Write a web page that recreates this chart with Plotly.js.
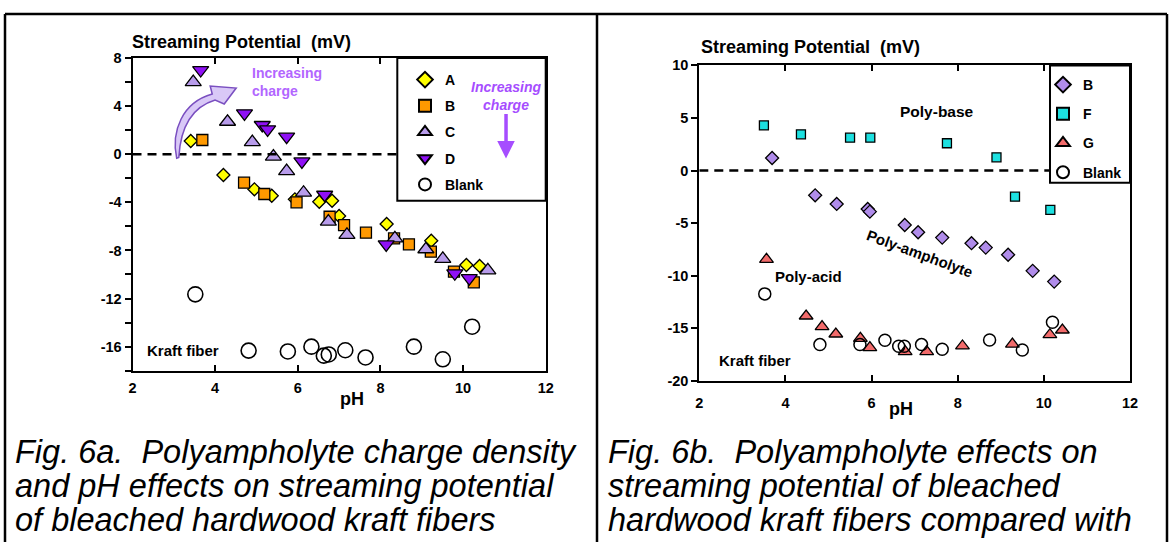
<!DOCTYPE html>
<html><head><meta charset="utf-8">
<script src="https://cdn.plot.ly/plotly-3.0.1.min.js"></script>
<style>html,body{margin:0;padding:0;background:#fff}#chart{width:1172px;height:542px}</style>
</head><body><div id="chart"></div>
<script>
// ---- Fig 6a data (pH, streaming potential mV) ----
const pHA = [3.41,4.20,4.95,5.37,5.93,6.52,6.83,7.00,8.15,9.23,10.08,10.40];
const spA = [1.1,-1.73,-2.92,-3.45,-3.75,-3.95,-3.87,-5.14,-5.8,-7.19,-9.21,-9.29];
const pHB = [3.69,4.70,5.19,5.97,6.77,7.12,7.65,8.33,8.69,9.22,9.78,10.26];
const spB = [1.18,-2.37,-3.31,-4.0,-5.2,-5.89,-6.52,-7.0,-7.49,-8.1,-9.77,-10.65];
const pHC = [3.47,4.30,4.90,5.41,5.73,6.14,6.74,7.19,8.35,9.10,9.51,10.60];
const spC = [6.0,2.7,1.0,-0.2,-1.4,-3.2,-5.6,-6.7,-7.0,-7.9,-8.7,-9.65];
const pHD = [3.65,4.71,5.14,5.27,5.73,6.10,6.65,8.14,9.80,10.15];
const spD = [7.0,3.4,2.43,2.07,1.46,-0.6,-3.37,-7.5,-9.9,-10.3];
const pHBlankA = [3.52,4.81,5.76,6.33,6.63,6.75,7.15,7.64,8.81,9.51,10.22];
const spBlankA = [-11.65,-16.33,-16.4,-16.0,-16.75,-16.65,-16.3,-16.9,-16.0,-17.05,-14.34];

// ---- Fig 6b data ----
const pHB2 = [3.69,4.69,5.19,5.91,5.96,6.77,7.08,7.64,8.32,8.65,9.17,9.74,10.24];
const spB2 = [1.2,-2.35,-3.17,-3.65,-3.9,-5.17,-5.86,-6.37,-6.9,-7.32,-8.0,-9.53,-10.55];
const pHF = [3.50,4.36,5.50,5.97,7.75,8.90,9.33,10.15];
const spF = [4.29,3.45,3.13,3.13,2.6,1.26,-2.48,-3.74];
const pHG = [3.56,4.48,4.85,5.17,5.74,5.96,6.78,7.28,8.11,9.27,10.14,10.43];
const spG = [-8.43,-13.82,-14.83,-15.53,-15.94,-16.83,-17.2,-17.2,-16.67,-16.5,-15.6,-15.15];
const pHBlankB = [3.52,4.80,5.73,6.31,6.63,6.76,7.16,7.64,8.74,9.50,10.20];
const spBlankB = [-11.72,-16.54,-16.54,-16.13,-16.7,-16.7,-16.54,-16.98,-16.1,-17.05,-14.42];

const xTicks = [2,4,6,8,10,12];
const xTickText = ['2','4','6','8','10','12'];
const yTicksA = [8,4,0,-4,-8,-12,-16];
const yTickTextA = ['8','4','0','-4','-8','-12','-16'];
const yTicksB = [10,5,0,-5,-10,-15,-20];
const yTickTextB = ['10','5','0','-5','-10','-15','-20'];

const FONT = 'Arial, "Liberation Sans", sans-serif';

function tr(x,y,name,sym,size,color,xa,ya,leg,lw){
  return {x:x,y:y,name:name,type:'scatter',mode:'markers',xaxis:xa,yaxis:ya,legend:leg,
    legendgroup:name+leg,
    marker:{symbol:sym,size:size,color:color,line:{color:'#000',width:lw||1.3}}};
}
const data = [
  tr(pHA,spA,'A','diamond',10,'#FFFF00','x','y','legend'),
  tr(pHB,spB,'B','square',11,'#FF9900','x','y','legend'),
  tr(pHC,spC,'C','triangle-up',14,'#B89CEB','x','y','legend'),
  tr(pHD,spD,'D','triangle-down',14,'#8F10F5','x','y','legend'),
  tr(pHBlankA,spBlankA,'Blank','circle',15,'rgba(255,255,255,0)','x','y','legend',1.6),
  tr(pHB2,spB2,'B','diamond',10,'#B08CEA','x2','y2','legend2'),
  tr(pHF,spF,'F','square',9,'#1CE0E0','x2','y2','legend2'),
  tr(pHG,spG,'G','triangle-up',12,'#F26B6B','x2','y2','legend2'),
  tr(pHBlankB,spBlankB,'Blank','circle',12,'rgba(255,255,255,0)','x2','y2','legend2',1.5)
];

const W=1172,H=542;
const px = v=>v/W, py = v=>1-v/H;
function tf(){ return {family:FONT,size:14.5,color:'#000',weight:700}; }
function ax(extra){
  return Object.assign({showgrid:false,zeroline:false,linecolor:'#000',linewidth:2,showline:true,
    tickfont:tf(),tickcolor:'#000',tickwidth:2,automargin:false}, extra);
}

const layout = {
  width:W,height:H,margin:{l:0,r:0,t:0,b:0},paper_bgcolor:'#fff',plot_bgcolor:'#fff',
  showlegend:true,font:{family:FONT,color:'#000',size:15},
  xaxis:ax({domain:[px(132.5),px(545.7)],range:[2,12],tickmode:'array',tickvals:xTicks,ticktext:xTickText,
    ticks:'inside',ticklen:6,mirror:'ticks',anchor:'y',ticklabelstandoff:3}),
  yaxis:ax({domain:[py(370.7),py(58)],range:[-18,8],tickmode:'array',tickvals:yTicksA,ticktext:yTickTextA,
    ticks:'outside',ticklen:6,mirror:true,anchor:'x',
    minor:{dtick:2,tick0:0,ticks:'outside',ticklen:6,tickcolor:'#000',tickwidth:2}}),
  xaxis2:ax({domain:[px(699.3),px(1130)],range:[2,12],tickmode:'array',tickvals:xTicks,ticktext:xTickText,
    ticks:'inside',ticklen:6,mirror:'ticks',anchor:'y2',ticklabelstandoff:8}),
  yaxis2:ax({domain:[py(381),py(65.4)],range:[-20,10],tickmode:'array',tickvals:yTicksB,ticktext:yTickTextB,
    ticks:'outside',ticklen:6,mirror:true,anchor:'x2'}),
  legend:{x:px(405),y:py(64),xanchor:'left',yanchor:'top',bgcolor:'rgba(0,0,0,0)',borderwidth:0,
    itemsizing:'constant',traceorder:'grouped',tracegroupgap:5,font:{family:FONT,size:14,weight:'bold'}},
  legend2:{x:px(1043),y:py(69),xanchor:'left',yanchor:'top',bgcolor:'rgba(0,0,0,0)',borderwidth:0,
    itemsizing:'constant',traceorder:'grouped',tracegroupgap:8,font:{family:FONT,size:14,weight:'bold'}},
  shapes:[
    {type:'line',xref:'x',yref:'y',x0:2,x1:12,y0:0,y1:0,line:{color:'#000',width:2.5,dash:'9px,6px'}},
    {type:'line',xref:'x2',yref:'y2',x0:2,x1:12,y0:0,y1:0,line:{color:'#000',width:2.5,dash:'9px,6px'}},
    {type:'rect',xref:'paper',yref:'paper',x0:px(397.3),x1:px(545.7),y0:py(200.7),y1:py(58),
      fillcolor:'#fff',line:{color:'#000',width:2}},
    {type:'rect',xref:'paper',yref:'paper',x0:px(1050),x1:px(1130),y0:py(182.7),y1:py(65.4),
      fillcolor:'#fff',line:{color:'#000',width:2}},
    {type:'path',xref:'x',yref:'y',
      path:'M3.07,-0.34 C2.93,1.9 3.2,4.3 3.93,5.0 L3.88,5.67 L4.51,5.50 L4.22,4.17 L4.0,4.5 C3.42,3.9 3.16,2.1 3.12,-0.28 Z',
      fillcolor:'#D9C8F7',line:{color:'#7A4FC0',width:1.5}},
    {type:'line',xref:'paper',yref:'paper',x0:px(5),x1:px(1167),y0:py(14),y1:py(14),line:{color:'#000',width:2.5}},
    {type:'line',xref:'paper',yref:'paper',x0:px(5),x1:px(5),y0:py(14),y1:0,line:{color:'#000',width:2.5}},
    {type:'line',xref:'paper',yref:'paper',x0:px(597),x1:px(597),y0:py(14),y1:0,line:{color:'#000',width:2.5}},
    {type:'line',xref:'paper',yref:'paper',x0:px(1167),x1:px(1167),y0:py(14),y1:0,line:{color:'#000',width:2.5}}
  ],
  annotations:[
    {xref:'paper',yref:'paper',x:px(130),y:py(42),xanchor:'left',yanchor:'middle',showarrow:false,
      text:'Streaming Potential\u00a0\u00a0(mV)',font:{family:FONT,size:18,weight:'bold'}},
    {xref:'paper',yref:'paper',x:px(699),y:py(47),xanchor:'left',yanchor:'middle',showarrow:false,
      text:'Streaming Potential\u00a0\u00a0(mV)',font:{family:FONT,size:18,weight:'bold'}},
    {xref:'paper',yref:'paper',x:px(338),y:py(411),showarrow:false,text:'pH',font:{family:FONT,size:18,weight:'bold'}},
    {xref:'paper',yref:'paper',x:px(915),y:py(421),showarrow:false,text:'pH',font:{family:FONT,size:18,weight:'bold'}},
    {xref:'x',yref:'y',x:4.85,y:6.03,xanchor:'left',yanchor:'middle',align:'left',showarrow:false,
      text:'Increasing<br>charge',font:{family:FONT,size:14,weight:'bold',color:'#B266FF'}},
    {xref:'x',yref:'y',x:11.04,y:4.88,xanchor:'center',yanchor:'middle',align:'center',showarrow:false,
      text:'<i>Increasing<br>charge</i>',font:{family:FONT,size:14,weight:'bold',color:'#A64DFF'}},
    {xref:'x',yref:'y',x:11.04,y:-0.35,ax:0,ay:-46,showarrow:true,arrowhead:2,arrowsize:1,arrowwidth:3.5,
      arrowcolor:'#A64DFF',text:''},
    {xref:'x',yref:'y',x:3.23,y:-16.28,showarrow:false,text:'Kraft fiber',font:{family:FONT,size:15,weight:'bold'}},
    {xref:'x2',yref:'y2',x:3.29,y:-18.07,showarrow:false,text:'Kraft fiber',font:{family:FONT,size:15,weight:'bold'}},
    {xref:'x2',yref:'y2',x:7.52,y:5.6,showarrow:false,text:'Poly-base',font:{family:FONT,size:15.5,weight:'bold'}},
    {xref:'x2',yref:'y2',x:4.53,y:-10.09,showarrow:false,text:'Poly-acid',font:{family:FONT,size:15,weight:'bold'}},
    {xref:'x2',yref:'y2',x:7.12,y:-7.86,showarrow:false,textangle:20,text:'Poly-ampholyte',font:{family:FONT,size:15,weight:'bold'}},
    {xref:'paper',yref:'paper',x:px(13),y:py(452),xanchor:'left',yanchor:'middle',showarrow:false,
      text:'<i>Fig. 6a.\u00a0\u00a0Polyampholyte charge density</i>',font:{family:FONT,size:32.5}},
    {xref:'paper',yref:'paper',x:px(13),y:py(486),xanchor:'left',yanchor:'middle',showarrow:false,
      text:'<i>and pH effects on streaming potential</i>',font:{family:FONT,size:32.5}},
    {xref:'paper',yref:'paper',x:px(13),y:py(520),xanchor:'left',yanchor:'middle',showarrow:false,
      text:'<i>of bleached hardwood kraft fibers</i>',font:{family:FONT,size:32.5}},
    {xref:'paper',yref:'paper',x:px(606),y:py(452),xanchor:'left',yanchor:'middle',showarrow:false,
      text:'<i>Fig. 6b.\u00a0\u00a0Polyampholyte effects on</i>',font:{family:FONT,size:32.5}},
    {xref:'paper',yref:'paper',x:px(606),y:py(486),xanchor:'left',yanchor:'middle',showarrow:false,
      text:'<i>streaming potential of bleached</i>',font:{family:FONT,size:32.5}},
    {xref:'paper',yref:'paper',x:px(606),y:py(520),xanchor:'left',yanchor:'middle',showarrow:false,
      text:'<i>hardwood kraft fibers compared with</i>',font:{family:FONT,size:32.5}}
  ]
};
Plotly.newPlot('chart',data,layout,{staticPlot:true,displayModeBar:false});
</script></body></html>
